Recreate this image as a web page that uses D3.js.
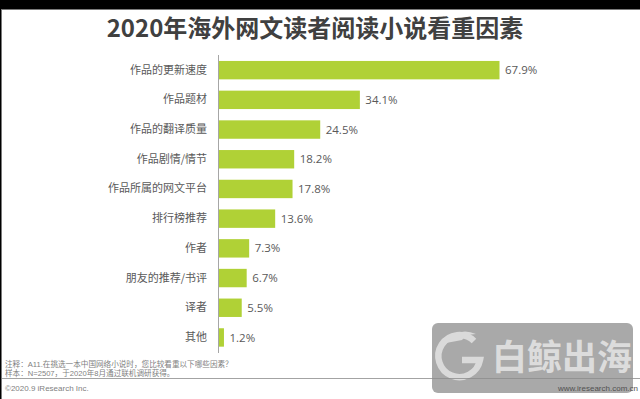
<!DOCTYPE html>
<html>
<head>
<meta charset="utf-8">
<script src="https://cdn.jsdelivr.net/npm/d3@7"></script>
<style>
  body { margin: 0; background: #fff; }
  text { font-family: "Noto Sans CJK SC", "Noto Sans", sans-serif; }
</style>
</head>
<body>
<div id="chart"></div>
<script>
// chart data
var categories = ["作品的更新速度", "作品题材", "作品的翻译质量", "作品剧情/情节", "作品所属的网文平台",
  "排行榜推荐", "作者", "朋友的推荐/书评", "译者", "其他"];
var values = [67.9, 34.1, 24.5, 18.2, 17.8, 13.6, 7.3, 6.7, 5.5, 1.2];
var titleText = "2020年海外网文读者阅读小说看重因素";
var noteLines = ["注释：A11.在挑选一本中国网络小说时，您比较看重以下哪些因素？",
  "样本：N=2507，于2020年8月通过联机调研获得。"];

var svgWidth = 640;
var svgHeight = 399;
var axisX = 218.5;

var svg = d3.select("#chart")
  .append("svg")
  .attr("width", svgWidth)
  .attr("height", svgHeight);

// frame: black band on top, dark left edge
svg.append("rect").attr("x", 0).attr("y", 0).attr("width", svgWidth).attr("height", 9).attr("fill", "#000");
svg.append("line").attr("x1", 0).attr("x2", svgWidth).attr("y1", 9.5).attr("y2", 9.5).attr("stroke", "#7a7a7a");
svg.append("rect").attr("x", 0).attr("y", 0).attr("width", 1).attr("height", svgHeight).attr("fill", "#000");
svg.append("line").attr("x1", 1.5).attr("x2", 1.5).attr("y1", 9).attr("y2", svgHeight).attr("stroke", "#7a7a7a");

// title
svg.append("text")
  .attr("x", 315)
  .attr("y", 37)
  .attr("text-anchor", "middle")
  .style("font-size", "24px")
  .style("font-weight", "bold")
  .style("fill", "#404040")
  .text(titleText);

// scales
var yScale = d3.scaleBand()
  .domain(categories)
  .range([55, 352.6])
  .paddingInner(0.38)
  .paddingOuter(0.2);

var xScale = d3.scaleLinear()
  .domain([0, d3.max(values)])
  .range([0, 280.5]);

var rows = categories.map(function(c, i) { return { name: c, value: values[i] }; });

// bars
svg.selectAll("rect.bar")
  .data(rows)
  .enter()
  .append("rect")
  .attr("class", "bar")
  .attr("x", axisX + 0.5)
  .attr("y", d => yScale(d.name))
  .attr("width", d => xScale(d.value))
  .attr("height", yScale.bandwidth())
  .attr("fill", "#b0d136");

// axis on the left, no ticks
var leftAxis = d3.axisLeft(yScale).tickSize(0).tickPadding(11.5);
var axisG = svg.append("g")
  .attr("transform", `translate(${axisX}, 0)`)
  .call(leftAxis);
axisG.select(".domain").attr("stroke", "#a6a6a6").attr("d", "M0,55V353");
axisG.selectAll(".tick text")
  .style("font-family", "\"Noto Sans CJK SC\", sans-serif")
  .style("font-size", "11px")
  .style("fill", "#595959");

// value labels
svg.selectAll("text.val")
  .data(rows)
  .enter()
  .append("text")
  .attr("class", "val")
  .attr("x", d => axisX + xScale(d.value) + 6)
  .attr("y", d => yScale(d.name) + yScale.bandwidth() / 2)
  .attr("dy", "0.36em")
  .style("font-family", "\"Open Sans\", \"Noto Sans\", sans-serif")
  .style("font-size", "11.5px")
  .style("fill", "#595959")
  .text(d => d.value.toFixed(1) + "%");

// notes
svg.selectAll("text.note")
  .data(noteLines)
  .enter()
  .append("text")
  .attr("class", "note")
  .attr("x", 5)
  .attr("y", (d, i) => 366.5 + i * 9.5)
  .style("font-family", "\"Liberation Sans\", \"Noto Sans CJK SC\", sans-serif")
  .style("font-size", "7.6px")
  .style("fill", "#7f7f7f")
  .text(d => d);

// watermark box
var wm = svg.append("g");
wm.append("rect")
  .attr("x", 432).attr("y", 323)
  .attr("width", 201).attr("height", 70)
  .attr("rx", 6)
  .attr("fill", "#a9a9a9");
wm.append("path")
  .attr("d", "M474,341 A21,21 0 1 0 480,360 L462,360")
  .attr("fill", "none")
  .attr("stroke", "#dadada")
  .attr("stroke-width", 6.5);
wm.append("path")
  .attr("d", "M446,343 Q458,326 476,334 Q466,334 462,340 Z")
  .attr("fill", "#dadada");
wm.append("text")
  .attr("x", 562)
  .attr("y", 370)
  .attr("text-anchor", "middle")
  .style("font-size", "35px")
  .style("font-weight", "bold")
  .style("fill", "#dcdcdc")
  .text("白鲸出海");

// footer line and texts
svg.append("line")
  .attr("x1", 2).attr("x2", svgWidth)
  .attr("y1", 378.5).attr("y2", 378.5)
  .attr("stroke", "#8c8c8c")
  .attr("stroke-opacity", 0.8);

svg.append("text")
  .attr("x", 5)
  .attr("y", 391)
  .style("font-family", "\"Liberation Sans\", Arial, sans-serif")
  .style("font-size", "8px")
  .style("fill", "#7f7f7f")
  .text("©2020.9 iResearch Inc.");

svg.append("text")
  .attr("x", 638)
  .attr("y", 391)
  .attr("text-anchor", "end")
  .style("font-family", "\"Liberation Sans\", Arial, sans-serif")
  .style("font-size", "8px")
  .style("fill", "#505050")
  .text("www.iresearch.com.cn");
</script>
</body>
</html>
